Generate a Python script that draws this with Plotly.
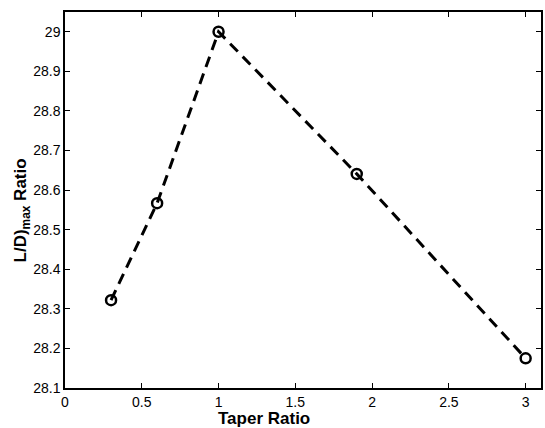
import plotly.graph_objects as go

taper_ratio = [0.3, 0.6, 1.0, 1.9, 3.0]
ld_max_ratio = [28.322, 28.567, 29.0, 28.641, 28.175]
x_ticks = [0, 0.5, 1, 1.5, 2, 2.5, 3]
x_tick_text = ["0", "0.5", "1", "1.5", "2", "2.5", "3"]
y_ticks = [28.1, 28.2, 28.3, 28.4, 28.5, 28.6, 28.7, 28.8, 28.9, 29.0]
y_tick_text = ["28.1", "28.2", "28.3", "28.4", "28.5", "28.6", "28.7", "28.8", "28.9", "29"]

fig = go.Figure()
fig.add_trace(go.Scatter(
    x=taper_ratio, y=ld_max_ratio, mode="lines+markers",
    line=dict(color="black", width=3, dash="11px,7px"),
    marker=dict(symbol="circle-open", size=10, color="black", line=dict(width=2.5, color="black")),
    showlegend=False,
))

axis_common = dict(
    showgrid=False, zeroline=False, showline=True, linecolor="black", linewidth=1.5,
    mirror="ticks", ticks="inside", ticklen=5, tickcolor="black", tickwidth=1,
    tickfont=dict(family="Liberation Sans, Arial, sans-serif", size=14, color="black"),
)
fig.update_xaxes(range=[0, 3.1], tickvals=x_ticks, ticktext=x_tick_text, **axis_common)
fig.update_yaxes(range=[28.1, 29.05], tickvals=y_ticks, ticktext=y_tick_text, **axis_common)

fig.add_annotation(
    text="<b>Taper Ratio</b>", xref="paper", yref="paper", x=0.418, y=-0.0495,
    xanchor="center", yanchor="top", showarrow=False,
    font=dict(family="Liberation Sans Narrow, Arial Narrow, Liberation Sans, sans-serif", size=17, color="black"),
)
fig.add_annotation(
    text="<b>L/D)<sub>max</sub> Ratio</b>", xref="paper", yref="paper", x=-0.117, y=0.473,
    xanchor="left", yanchor="middle", showarrow=False, textangle=-90,
    font=dict(family="Liberation Sans, Arial, sans-serif", size=17, color="black"),
)

fig.update_layout(
    width=545, height=428, margin=dict(l=65, r=2, t=12, b=40),
    paper_bgcolor="white", plot_bgcolor="white",
)
fig.write_html("out.html")
